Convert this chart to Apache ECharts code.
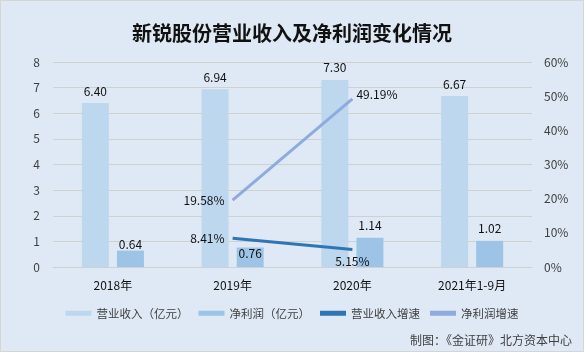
<!DOCTYPE html>
<html>
<head>
<meta charset="utf-8">
<script src="https://cdn.jsdelivr.net/npm/echarts@6/dist/echarts.min.js"></script>
<style>
  html, body { margin: 0; padding: 0; }
  #chart { width: 584px; height: 352px; box-sizing: border-box; border: 1px solid #D5D5D5; background: #DEE9F5; }
</style>
</head>
<body>
<div id="chart"></div>
<script>
// 数据
const categories = ['2018年', '2019年', '2020年', '2021年1-9月'];
const revenue = [6.40, 6.94, 7.30, 6.67];        // 营业收入（亿元）
const netProfit = [0.64, 0.76, 1.14, 1.02];      // 净利润（亿元）
const revenueGrowth = [null, 8.41, 5.15, null];  // 营业收入增速 %
const profitGrowth = [null, 19.58, 49.19, null]; // 净利润增速 %

const FONT = '"Noto Sans CJK SC", sans-serif';
const chart = echarts.init(document.getElementById('chart'));

const fmt2 = p => p.value.toFixed(2);
const fmtPct = p => p.value.toFixed(2) + '%';

// 净利润标签位置（避开折线标签）
const profitLabelPos = [
    { distance: 0 },
    { position: 'insideTop', distance: 0 },
    {},
    {}
];

chart.setOption({
    textStyle: { fontFamily: FONT },
    title: {
        text: '新锐股份营业收入及净利润变化情况',
        left: 'center',
        top: 17,
        textStyle: { fontSize: 20, fontWeight: 'bold', color: '#111', fontFamily: FONT }
    },
    grid: { left: 52, right: 51, top: 61, bottom: 84 },
    legend: {
        bottom: 27,
        left: 'center',
        itemWidth: 26,
        itemHeight: 5,
        itemGap: 10,
        icon: 'rect',
        textStyle: { fontSize: 11.5, color: '#404040', fontFamily: FONT },
        data: ['营业收入（亿元）', '净利润（亿元）', '营业收入增速', '净利润增速']
    },
    graphic: [{
        type: 'text',
        right: 11,
        top: 333,
        style: { text: '制图：《金证研》北方资本中心', fontSize: 12, fill: '#404040', fontFamily: FONT }
    }],
    xAxis: {
        type: 'category',
        data: categories,
        axisLine: { lineStyle: { color: '#D0D0D0' } },
        axisTick: { show: false },
        axisLabel: { color: '#111', fontSize: 12, margin: 12, fontFamily: FONT }
    },
    yAxis: [{
        type: 'value',
        min: 0, max: 8, interval: 1,
        axisLine: { show: false },
        axisTick: { show: false },
        splitLine: { lineStyle: { color: '#D0D0D0' } },
        axisLabel: { color: '#404040', fontSize: 12, margin: 13 }
    }, {
        type: 'value',
        min: 0, max: 60, interval: 10,
        axisLine: { show: false },
        axisTick: { show: false },
        splitLine: { show: false },
        axisLabel: { color: '#404040', fontSize: 12, margin: 12, formatter: '{value}%' }
    }],
    series: [{
        name: '营业收入（亿元）',
        type: 'bar',
        data: revenue,
        barWidth: 27,
        barGap: '30%',
        itemStyle: { color: '#BDD7EE' },
        label: { show: true, position: 'top', distance: 6, color: '#111', fontSize: 12, formatter: fmt2 }
    }, {
        name: '净利润（亿元）',
        type: 'bar',
        data: netProfit.map((v, i) => ({ value: v, label: profitLabelPos[i] })),
        barWidth: 27,
        itemStyle: { color: '#9DC3E6' },
        label: { show: true, position: 'top', distance: 6, color: '#111', fontSize: 12, formatter: fmt2 }
    }, {
        name: '营业收入增速',
        type: 'line',
        yAxisIndex: 1,
        data: [null,
            { value: revenueGrowth[1], label: { show: true, position: 'left', distance: 8 } },
            { value: revenueGrowth[2], label: { show: true, position: 'bottom', distance: 6 } },
            null],
        symbol: 'circle',
        symbolSize: 0.1,
        lineStyle: { width: 3, color: '#2E75B6' },
        itemStyle: { color: '#2E75B6' },
        label: { color: '#111', fontSize: 12, formatter: fmtPct }
    }, {
        name: '净利润增速',
        type: 'line',
        yAxisIndex: 1,
        data: [null,
            { value: profitGrowth[1], label: { show: true, position: 'left', distance: 8 } },
            { value: profitGrowth[2], label: { show: true, position: 'right', distance: 4, offset: [0, -4] } },
            null],
        symbol: 'circle',
        symbolSize: 0.1,
        lineStyle: { width: 3, color: '#8FAADC' },
        itemStyle: { color: '#8FAADC' },
        label: { color: '#111', fontSize: 12, formatter: fmtPct }
    }]
});
</script>
</body>
</html>
